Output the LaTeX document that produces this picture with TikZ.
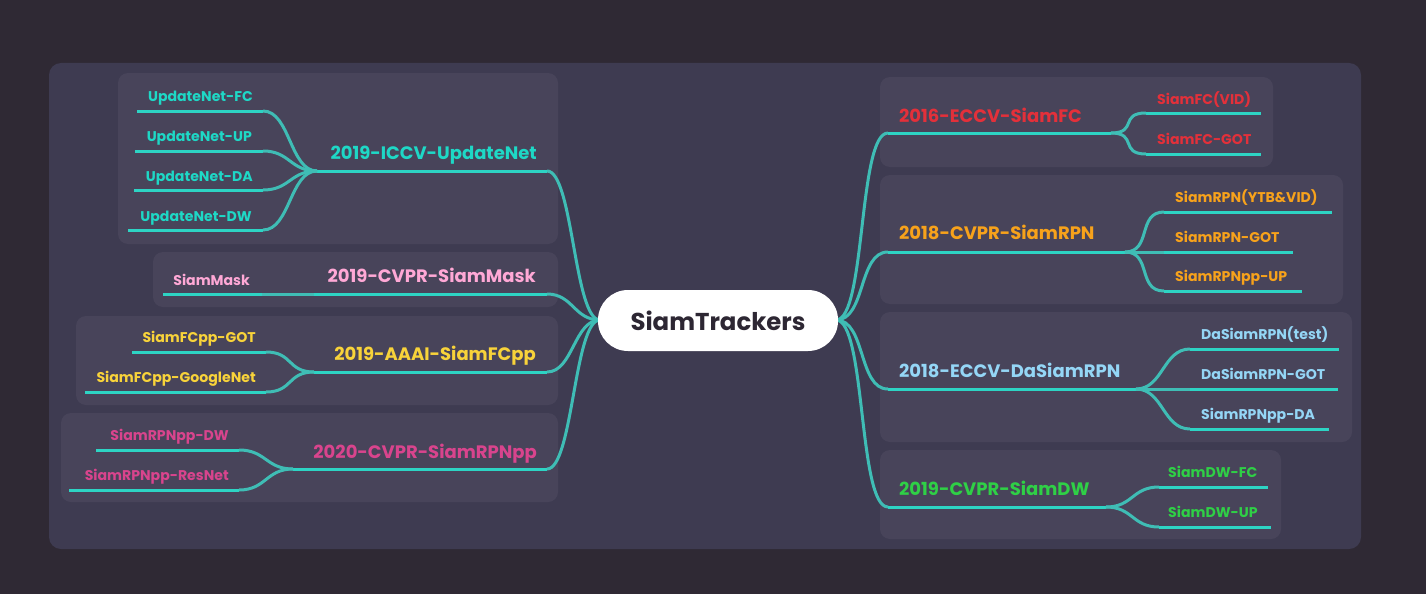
\documentclass[tikz,border=0pt]{standalone}
\usepackage{fontspec}
\setmainfont{Poppins}
\definecolor{bgcol}{HTML}{2F2934}
\definecolor{panelcol}{HTML}{3E3B51}
\definecolor{boxcol}{HTML}{48445A}
\definecolor{linecol}{HTML}{2DD4C4}
\definecolor{conncol}{HTML}{3FBDB5}
\definecolor{rootcol}{HTML}{2D2733}
\definecolor{cUpd}{HTML}{1ED8C6}
\definecolor{cMask}{HTML}{FFA8D6}
\definecolor{cFCpp}{HTML}{F8D33A}
\definecolor{cRPNpp}{HTML}{D9448D}
\definecolor{cFC}{HTML}{E3303A}
\definecolor{cRPN}{HTML}{F7A21B}
\definecolor{cDa}{HTML}{94D6F6}
\definecolor{cDW}{HTML}{2FD046}
\tikzset{
  mainlbl/.style={font=\fontsize{18}{21}\selectfont\bfseries, inner sep=0pt},
  sublbl/.style={font=\fontsize{14.1}{16}\selectfont\bfseries, inner sep=0pt},
  hline/.style={draw=linecol, line width=3pt},
  conn/.style={draw=conncol, line width=3pt},
  subbox/.style={fill=boxcol, rounded corners=10pt},
  rootbox/.style={fill=white, rounded corners=30pt, minimum width=240pt, minimum height=61pt, inner sep=0pt,
      text=rootcol, font=\fontsize{24.4}{27}\selectfont\bfseries},
}
\begin{document}
\begin{tikzpicture}[x=1pt,y=-1pt]
\fill[bgcol] (0,0) rectangle (1426,594);
\useasboundingbox (0,0) rectangle (1426,594);
\fill[panelcol, rounded corners=12pt] (49,63) rectangle (1361,549);
% sub boxes
\fill[subbox] (118,73) rectangle (558,244);
\fill[subbox] (153,252) rectangle (558,307);
\fill[subbox] (76,316) rectangle (558,405);
\fill[subbox] (61,413) rectangle (558,502);
\fill[subbox] (880,77) rectangle (1273,167);
\fill[subbox] (880,175) rectangle (1343,304);
\fill[subbox] (880,312) rectangle (1352,442);
\fill[subbox] (880,450) rectangle (1281,539);

% root placeholder (for anchors)
\coordinate (rootc) at (718,320.5);
\coordinate (rootW) at (600,320);
\coordinate (rootE) at (836,320);

% ---------- left: UpdateNet ----------
\coordinate (updhub) at (317,171); \coordinate (updend) at (547,171);
\node[mainlbl, text=cUpd, anchor=base east] (upd) at (537,159) {2019-ICCV-UpdateNet};
\node[sublbl, text=cUpd, anchor=base east] (upd1) at (253,101.5) {UpdateNet-FC};
\node[sublbl, text=cUpd, anchor=base east] (upd2) at (252,141) {UpdateNet-UP};
\node[sublbl, text=cUpd, anchor=base east] (upd3) at (253,181.5) {UpdateNet-DA};
\node[sublbl, text=cUpd, anchor=base east] (upd4) at (252,221.5) {UpdateNet-DW};
\coordinate (upd1a) at (137,111); \coordinate (upd1b) at (263,111);
\coordinate (upd2a) at (135,151); \coordinate (upd2b) at (263,151);
\coordinate (upd3a) at (134,190); \coordinate (upd3b) at (263,190);
\coordinate (upd4a) at (128,230); \coordinate (upd4b) at (263,230);

% ---------- left: SiamMask ----------
\coordinate (mskhub) at (314,294); \coordinate (mskend) at (547,294);
\node[mainlbl, text=cMask, anchor=base east] (msk) at (536,282) {2019-CVPR-SiamMask};
\node[sublbl, text=cMask, anchor=base east] (msk1) at (250,285) {SiamMask};
\coordinate (msk1a) at (163,294); \coordinate (msk1b) at (262,294);

% ---------- left: SiamFCpp ----------
\coordinate (fcpphub) at (314,372); \coordinate (fcppend) at (547,372);
\node[mainlbl, text=cFCpp, anchor=base east] (fcpp) at (536,360) {2019-AAAI-SiamFCpp};
\node[sublbl, text=cFCpp, anchor=base east] (fcpp1) at (256,342) {SiamFCpp-GOT};
\node[sublbl, text=cFCpp, anchor=base east] (fcpp2) at (256,382) {SiamFCpp-GoogleNet};
\coordinate (fcpp1a) at (132,352); \coordinate (fcpp1b) at (266,352);
\coordinate (fcpp2a) at (85,392); \coordinate (fcpp2b) at (266,392);

% ---------- left: SiamRPNpp ----------
\coordinate (rpnpphub) at (293,469); \coordinate (rpnppend) at (547,469);
\node[mainlbl, text=cRPNpp, anchor=base east] (rpnpp) at (537,458) {2020-CVPR-SiamRPNpp};
\node[sublbl, text=cRPNpp, anchor=base east] (rpnpp1) at (229,440) {SiamRPNpp-DW};
\node[sublbl, text=cRPNpp, anchor=base east] (rpnpp2) at (229,480) {SiamRPNpp-ResNet};
\coordinate (rpnpp1a) at (96,450); \coordinate (rpnpp1b) at (239,450);
\coordinate (rpnpp2a) at (69,490); \coordinate (rpnpp2b) at (239,490);

% ---------- right: SiamFC ----------
\coordinate (fcstart) at (888,133); \coordinate (fchub) at (1111,133);
\node[mainlbl, text=cFC, anchor=base west] (fc) at (899,122) {2016-ECCV-SiamFC};
\node[sublbl, text=cFC, anchor=base west] (fc1) at (1157,104) {SiamFC(VID)};
\node[sublbl, text=cFC, anchor=base west] (fc2) at (1157,144) {SiamFC-GOT};
\coordinate (fc1a) at (1146,113); \coordinate (fc1b) at (1261,113);
\coordinate (fc2a) at (1146,154); \coordinate (fc2b) at (1261,154);

% ---------- right: SiamRPN ----------
\coordinate (rpnstart) at (888,252); \coordinate (rpnhub) at (1125,252);
\node[mainlbl, text=cRPN, anchor=base west] (rpn) at (899,239) {2018-CVPR-SiamRPN};
\node[sublbl, text=cRPN, anchor=base west] (rpn1) at (1175,202) {SiamRPN(YTB\&VID)};
\node[sublbl, text=cRPN, anchor=base west] (rpn2) at (1175,242) {SiamRPN-GOT};
\node[sublbl, text=cRPN, anchor=base west] (rpn3) at (1175,281) {SiamRPNpp-UP};
\coordinate (rpn1a) at (1164,212); \coordinate (rpn1b) at (1332,212);
\coordinate (rpn2a) at (1164,252); \coordinate (rpn2b) at (1293,252);
\coordinate (rpn3a) at (1164,291); \coordinate (rpn3b) at (1302,291);

% ---------- right: DaSiamRPN ----------
\coordinate (dastart) at (888,389); \coordinate (dahub) at (1136,389);
\node[mainlbl, text=cDa, anchor=base west] (da) at (899,377) {2018-ECCV-DaSiamRPN};
\node[sublbl, text=cDa, anchor=base west] (da1) at (1201,339) {DaSiamRPN(test)};
\node[sublbl, text=cDa, anchor=base west] (da2) at (1201,379) {DaSiamRPN-GOT};
\node[sublbl, text=cDa, anchor=base west] (da3) at (1201,419) {SiamRPNpp-DA};
\coordinate (da1a) at (1190,349); \coordinate (da1b) at (1339,349);
\coordinate (da2a) at (1190,389); \coordinate (da2b) at (1338,389);
\coordinate (da3a) at (1190,429); \coordinate (da3b) at (1329,429);

% ---------- right: SiamDW ----------
\coordinate (dwstart) at (888,507); \coordinate (dwhub) at (1106,507);
\node[mainlbl, text=cDW, anchor=base west] (dw) at (899,495) {2019-CVPR-SiamDW};
\node[sublbl, text=cDW, anchor=base west] (dw1) at (1168,477) {SiamDW-FC};
\node[sublbl, text=cDW, anchor=base west] (dw2) at (1168,517) {SiamDW-UP};
\coordinate (dw1a) at (1159,487); \coordinate (dw1b) at (1268,487);
\coordinate (dw2a) at (1159,527); \coordinate (dw2b) at (1271,527);

% ---------- connectors: root to branches ----------
\foreach \e in {updend,mskend,fcppend,rpnppend}{
  \draw[conn] (\e) .. controls +(26,0) and +(-26,0) .. (rootW);
}
\foreach \s in {fcstart,rpnstart,dastart,dwstart}{
  \draw[conn] (rootE) .. controls +(30,0) and +(-30,0) .. (\s);
}
% main lines
\draw[hline] (updhub) -- (updend);
\draw[hline] (mskhub) -- (mskend);
\draw[hline] (fcpphub) -- (fcppend);
\draw[hline] (rpnpphub) -- (rpnppend);
\draw[hline] (fcstart) -- (fchub);
\draw[hline] (rpnstart) -- (rpnhub);
\draw[hline] (dastart) -- (dahub);
\draw[hline] (dwstart) -- (dwhub);

% left children
\foreach \c/\h in {upd1/updhub,upd2/updhub,upd3/updhub,upd4/updhub,msk1/mskhub,fcpp1/fcpphub,fcpp2/fcpphub,rpnpp1/rpnpphub,rpnpp2/rpnpphub}{
  \draw[hline] (\c a) -- (\c b);
  \draw[conn] (\c b) .. controls +(27,0) and +(-27,0) .. (\h);
}
% right children
\foreach \c/\h in {fc1/fchub,fc2/fchub,rpn1/rpnhub,rpn2/rpnhub,rpn3/rpnhub,da1/dahub,da2/dahub,da3/dahub,dw1/dwhub,dw2/dwhub}{
  \draw[hline] (\c a) -- (\c b);
  \draw[conn] (\h) .. controls +(27,0) and +(-27,0) .. (\c a);
}

% root on top
\node[rootbox] (root) at (rootc) {SiamTrackers};
\end{tikzpicture}
\end{document}
